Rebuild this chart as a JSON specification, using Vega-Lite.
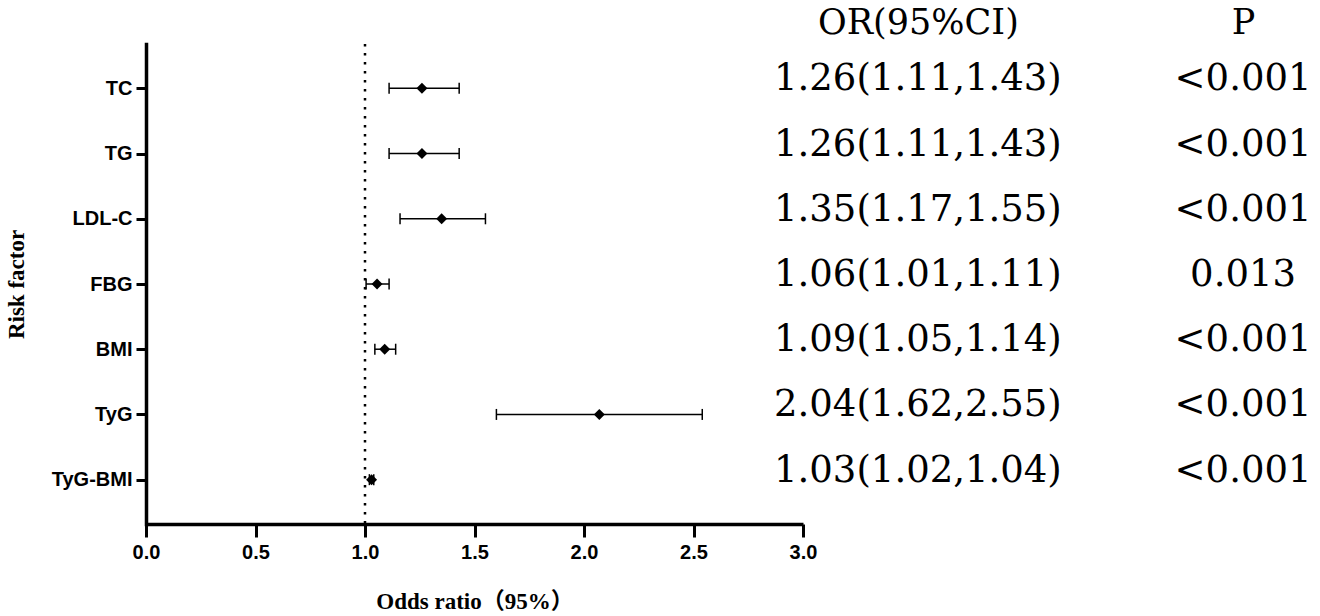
{
  "$schema": "https://vega.github.io/schema/vega-lite/v6.json",
  "background": "white",
  "padding": {"left": 5, "top": 5, "right": 5, "bottom": 0},
  "bounds": "flush",
  "spacing": 45,
  "config": {"view": {"stroke": null}},
  "datasets": {
    "rows": [
      {"factor": "TC", "or": 1.26, "lo": 1.11, "hi": 1.43, "orci": "1.26(1.11,1.43)", "p": "<0.001"},
      {"factor": "TG", "or": 1.26, "lo": 1.11, "hi": 1.43, "orci": "1.26(1.11,1.43)", "p": "<0.001"},
      {"factor": "LDL-C", "or": 1.35, "lo": 1.16, "hi": 1.55, "orci": "1.35(1.17,1.55)", "p": "<0.001"},
      {"factor": "FBG", "or": 1.055, "lo": 1.005, "hi": 1.11, "orci": "1.06(1.01,1.11)", "p": "0.013"},
      {"factor": "BMI", "or": 1.09, "lo": 1.045, "hi": 1.14, "orci": "1.09(1.05,1.14)", "p": "<0.001"},
      {"factor": "TyG", "or": 2.07, "lo": 1.6, "hi": 2.54, "orci": "2.04(1.62,2.55)", "p": "<0.001"},
      {"factor": "TyG-BMI", "or": 1.03, "lo": 1.02, "hi": 1.04, "orci": "1.03(1.02,1.04)", "p": "<0.001"}
    ]
  },
  "hconcat": [
    {
      "width": 657,
      "height": 480,
      "layer": [
        {
          "data": {"values": [{"ref": 1}]},
          "mark": {"type": "rule", "color": "black", "strokeWidth": 2.5, "strokeDash": [2.5, 6.5]},
          "encoding": {
            "x": {"field": "ref", "type": "quantitative", "scale": {"domain": [0, 3], "nice": false, "zero": true}}
          }
        },
        {
          "data": {"name": "rows"},
          "mark": {"type": "rule", "color": "black", "strokeWidth": 1.5},
          "encoding": {
            "y": {
              "field": "factor", "type": "nominal",
              "scale": {"type": "point", "domain": ["TC", "TG", "LDL-C", "FBG", "BMI", "TyG", "TyG-BMI"], "padding": 0.68},
              "axis": {
                "title": "Risk factor",
                "titleFont": "Liberation Serif", "titleFontSize": 23, "titleFontWeight": "bold", "titleColor": "black",
                "titlePadding": 23,
                "labelFont": "Liberation Sans", "labelFontSize": 20, "labelFontWeight": "bold", "labelColor": "black",
                "labelPadding": 4,
                "domainColor": "black", "domainWidth": 3.5, "domainCap": "square",
                "tickColor": "black", "tickWidth": 3, "tickSize": 10,
                "grid": false
              }
            },
            "x": {
              "field": "lo", "type": "quantitative",
              "scale": {"domain": [0, 3], "nice": false},
              "axis": {
                "title": "Odds ratio（95%）",
                "titleFont": "Liberation Serif, Noto Sans CJK SC", "titleFontSize": 23, "titleFontWeight": "bold", "titleColor": "black",
                "titlePadding": 28,
                "values": [0, 0.5, 1, 1.5, 2, 2.5, 3], "format": ".1f",
                "labelFlush": false,
                "labelFont": "Liberation Sans", "labelFontSize": 20, "labelFontWeight": "bold", "labelColor": "black",
                "labelPadding": 5,
                "domainColor": "black", "domainWidth": 3.5,
                "tickColor": "black", "tickWidth": 3, "tickSize": 13,
                "grid": false
              }
            },
            "x2": {"field": "hi"}
          }
        },
        {
          "data": {"name": "rows"},
          "mark": {"type": "tick", "color": "black", "size": 11, "thickness": 1.5, "opacity": 1},
          "encoding": {
            "y": {"field": "factor", "type": "nominal"},
            "x": {"field": "lo", "type": "quantitative"}
          }
        },
        {
          "data": {"name": "rows"},
          "mark": {"type": "tick", "color": "black", "size": 11, "thickness": 1.5, "opacity": 1},
          "encoding": {
            "y": {"field": "factor", "type": "nominal"},
            "x": {"field": "hi", "type": "quantitative"}
          }
        },
        {
          "data": {"name": "rows"},
          "mark": {"type": "point", "shape": "diamond", "filled": true, "size": 120, "color": "black", "opacity": 1},
          "encoding": {
            "y": {"field": "factor", "type": "nominal"},
            "x": {"field": "or", "type": "quantitative"}
          }
        }
      ]
    },
    {
      "width": 465,
      "height": 480,
      "data": {"name": "rows"},
      "transform": [{"fold": ["orci", "p"], "as": ["col", "txt"]}],
      "mark": {"type": "text", "font": "DejaVu Serif", "fontSize": 37, "color": "black", "align": "center", "baseline": "middle", "dy": -9},
      "encoding": {
        "y": {
          "field": "factor", "type": "nominal",
          "scale": {"type": "point", "domain": ["TC", "TG", "LDL-C", "FBG", "BMI", "TyG", "TyG-BMI"], "padding": 0.68},
          "axis": null
        },
        "x": {
          "field": "col", "type": "nominal",
          "scale": {"type": "point", "domain": ["orci", "p"], "padding": 0.215},
          "axis": {
            "orient": "top", "title": null,
            "labelExpr": "datum.value == 'orci' ? 'OR(95%CI)' : 'P'",
            "labelFont": "DejaVu Serif", "labelFontSize": 35, "labelColor": "black", "labelAngle": 0,
            "labelLimit": 600,
            "labelPadding": 4, "ticks": false, "tickSize": 0, "domain": false, "grid": false
          }
        },
        "text": {"field": "txt"}
      }
    }
  ]
}
